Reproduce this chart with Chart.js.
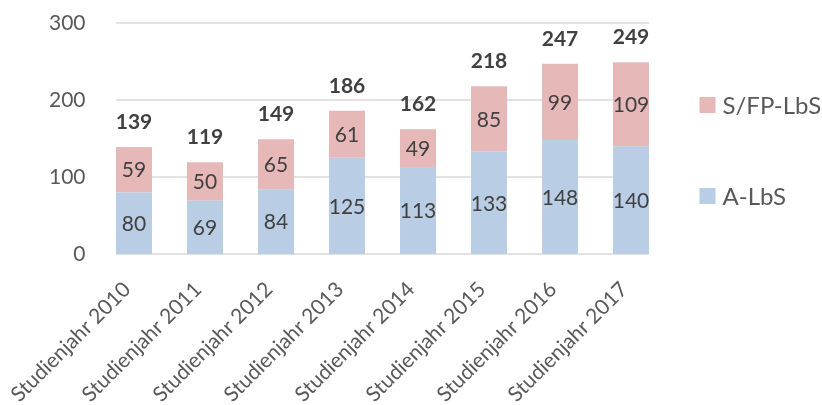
<!DOCTYPE html>
<html>
<head>
<meta charset="utf-8">
<script src="https://cdn.jsdelivr.net/npm/chart.js@4.4.0/dist/chart.umd.min.js"></script>
<style>
  html, body { margin: 0; padding: 0; background: #fff; }
  #wrap { width: 822px; height: 405px; }
</style>
</head>
<body>
<div id="wrap"><canvas id="chart"></canvas></div>
<script>
const categories = ['Studienjahr 2010', 'Studienjahr 2011', 'Studienjahr 2012', 'Studienjahr 2013',
                    'Studienjahr 2014', 'Studienjahr 2015', 'Studienjahr 2016', 'Studienjahr 2017'];
const aLbs = [80, 69, 84, 125, 113, 133, 148, 140];
const sfpLbs = [59, 50, 65, 61, 49, 85, 99, 109];
const yTicks = [0, 100, 200, 300];

const BLUE = '#B9CDE5';
const PINK = '#E6B9B8';
const TICK_COLOR = '#595959';
const LABEL_COLOR = '#404040';

Chart.defaults.font.family = 'Lato';

// horizontal grid lines, only as wide as the bars
const gridPlugin = {
  id: 'grid',
  beforeDatasetsDraw(chart) {
    const ctx = chart.ctx;
    const y = chart.scales.y;
    const bars = chart.getDatasetMeta(0).data;
    const first = bars[0], last = bars[bars.length - 1];
    const left = first.x - first.width / 2;
    const right = last.x + last.width / 2;
    ctx.save();
    ctx.strokeStyle = '#D9D9D9';
    ctx.lineWidth = 1.5;
    yTicks.forEach(v => {
      const py = y.getPixelForValue(v);
      ctx.beginPath();
      ctx.moveTo(left, py);
      ctx.lineTo(right, py);
      ctx.stroke();
    });
    ctx.restore();
  }
};

// values inside segments and totals on top
const valuePlugin = {
  id: 'values',
  afterDatasetsDraw(chart) {
    const ctx = chart.ctx;
    ctx.save();
    ctx.fillStyle = LABEL_COLOR;
    ctx.textAlign = 'center';
    ctx.textBaseline = 'middle';
    ctx.font = '21px Lato';
    chart.data.datasets.forEach((ds, di) => {
      chart.getDatasetMeta(di).data.forEach((bar, i) => {
        ctx.fillText(ds.data[i], bar.x, (bar.y + bar.base) / 2 + 1);
      });
    });
    ctx.font = 'bold 21px Lato';
    const topBars = chart.getDatasetMeta(chart.data.datasets.length - 1).data;
    topBars.forEach((bar, i) => {
      const total = chart.data.datasets.reduce((s, ds) => s + ds.data[i], 0);
      ctx.fillText(total, bar.x, bar.y - 25);
    });
    ctx.restore();
  }
};

// legend at the right, top dataset first
const legendPlugin = {
  id: 'sideLegend',
  afterDraw(chart) {
    const ctx = chart.ctx;
    const x = chart.chartArea.right + 33;
    const rows = [105, 196];
    const items = chart.data.datasets.slice().reverse();
    ctx.save();
    ctx.font = '24px Lato';
    ctx.textBaseline = 'middle';
    ctx.textAlign = 'left';
    items.forEach((ds, i) => {
      ctx.fillStyle = ds.backgroundColor;
      ctx.fillRect(x, rows[i] - 8, 16, 16);
      ctx.fillStyle = TICK_COLOR;
      ctx.fillText(ds.label, x + 23, rows[i] + 1);
    });
    ctx.restore();
  }
};

new Chart(document.getElementById('chart'), {
  type: 'bar',
  data: {
    labels: categories,
    datasets: [
      { label: 'A-LbS', data: aLbs, backgroundColor: BLUE },
      { label: 'S/FP-LbS', data: sfpLbs, backgroundColor: PINK }
    ]
  },
  options: {
    responsive: true,
    maintainAspectRatio: false,
    animation: false,
    layout: { padding: { top: 23, right: 155.5, bottom: 0, left: 0 } },
    datasets: { bar: { barPercentage: 0.507, categoryPercentage: 1 } },
    plugins: {
      legend: { display: false },
      tooltip: { enabled: false }
    },
    scales: {
      x: {
        stacked: true,
        grid: { display: false },
        border: { display: false },
        afterFit(scale) { scale.height = 151; },
        ticks: {
          color: TICK_COLOR,
          font: { size: 21 },
          minRotation: 45,
          maxRotation: 45,
          padding: 15,
          labelOffset: -7
        }
      },
      y: {
        stacked: true,
        min: 0,
        max: 300,
        grid: { display: false },
        border: { display: false },
        afterFit(scale) { scale.width = 98.5; },
        ticks: {
          stepSize: 100,
          color: TICK_COLOR,
          font: { size: 21 },
          padding: 5
        }
      }
    }
  },
  plugins: [gridPlugin, valuePlugin, legendPlugin]
});
</script>
</body>
</html>
